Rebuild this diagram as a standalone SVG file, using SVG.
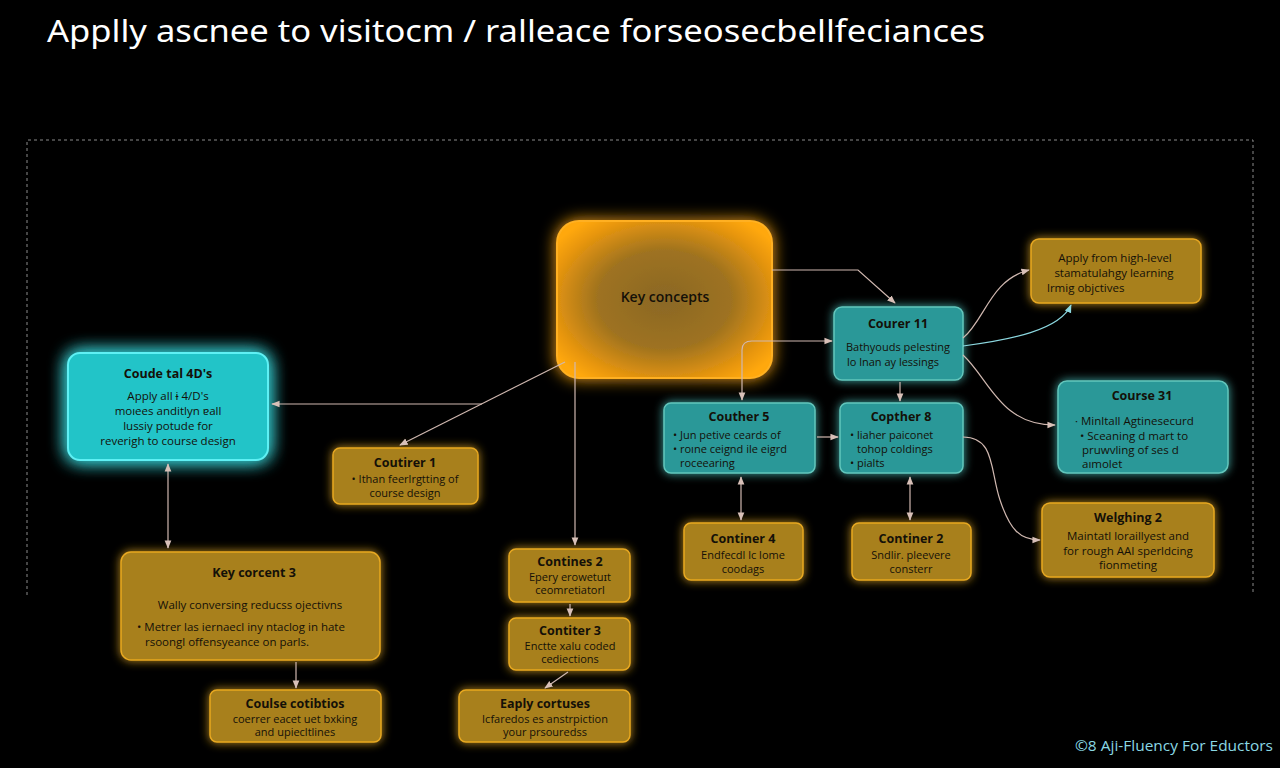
<svg xmlns="http://www.w3.org/2000/svg" width="1280" height="768" viewBox="0 0 1280 768">
<defs>
<filter id="glowO" x="-40%" y="-40%" width="180%" height="180%"><feGaussianBlur in="SourceGraphic" stdDeviation="8" result="b"/><feMerge><feMergeNode in="b"/><feMergeNode in="SourceGraphic"/></feMerge></filter>
<filter id="glowC" x="-40%" y="-40%" width="180%" height="180%"><feGaussianBlur in="SourceGraphic" stdDeviation="9" result="b"/><feMerge><feMergeNode in="b"/><feMergeNode in="b"/><feMergeNode in="SourceGraphic"/></feMerge></filter>
<filter id="glowS" x="-30%" y="-30%" width="160%" height="160%"><feGaussianBlur in="SourceGraphic" stdDeviation="5" result="b"/><feMerge><feMergeNode in="b"/><feMergeNode in="SourceGraphic"/></feMerge></filter>
<radialGradient id="kc" cx="50%" cy="50%" r="62%"><stop offset="0" stop-color="#8a6826"/><stop offset="0.5" stop-color="#9e7220"/><stop offset="0.85" stop-color="#e8960e"/><stop offset="1" stop-color="#ffa80a"/></radialGradient>
<marker id="ah" viewBox="0 0 10 10" refX="9" refY="5" markerWidth="7" markerHeight="7" orient="auto-start-reverse"><path d="M0,1 L10,5 L0,9 z" fill="#d8c0b8"/></marker>
<marker id="ahc" viewBox="0 0 10 10" refX="9" refY="5" markerWidth="7" markerHeight="7" orient="auto-start-reverse"><path d="M0,1 L10,5 L0,9 z" fill="#8cd8e0"/></marker>
</defs>
<style>
text{font-family:"Open Sans","Noto Sans","Liberation Sans",sans-serif;fill:#141008;}
.t{font-weight:700;font-size:12.5px;text-anchor:middle;}
.b{font-size:11px;text-anchor:middle;}
.bl{font-size:11px;}
.m{font-size:11.5px;}
.gold{fill:#a8801f;stroke:#e8a820;stroke-width:1.5;}
.teal{fill:#2b9898;stroke:#62c6bc;stroke-width:1.5;}
.cyan{fill:#22c4c8;stroke:#5ef0f4;stroke-width:2;}
.c{fill:none;stroke:#d0b8b0;stroke-width:1.2;}
</style>
<rect width="1280" height="768" fill="#000"/>
<text x="47" y="42" style="font-size:31px;fill:#fff;font-family:'Noto Sans','Open Sans',sans-serif" textLength="938" lengthAdjust="spacingAndGlyphs">Applly ascnee to visitocm / ralleace forseosecbellfeciances</text>
<path d="M27,595 V140 H1253 V595" fill="none" stroke="#8a8a8a" stroke-width="1" stroke-dasharray="3,3"/>

<g id="key-concepts">
<rect x="557" y="221" width="215" height="157" rx="22" fill="url(#kc)" stroke="#ffb020" stroke-width="2" filter="url(#glowO)"/>
<text x="665" y="302" style="font-size:14px;font-weight:600;text-anchor:middle">Key concepts</text>
</g>

<g id="coude">
<rect class="cyan" x="68" y="353" width="200" height="107" rx="12" filter="url(#glowC)"/>
<text class="t" x="168" y="378">Coude tal 4D's</text>
<text class="b m" x="168" y="400">Apply all ɨ 4/D's</text>
<text class="b m" x="168" y="415">moıees anditlyn ɐall</text>
<text class="b m" x="168" y="430">lussiy potude for</text>
<text class="b m" x="168" y="445">reverigh to course design</text>
</g>

<g id="coutirer1">
<rect class="gold" x="333" y="448" width="145" height="56" rx="7" filter="url(#glowS)"/>
<text class="t" x="405" y="467">Coutirer 1</text>
<text class="b" x="405" y="483">• Ithan feerlrgtting of</text>
<text class="b" x="405" y="497">course design</text>
</g>

<g id="keycorcent3">
<rect class="gold" x="121" y="552" width="259" height="108" rx="10" filter="url(#glowS)"/>
<text class="t" x="254" y="577">Key corcent 3</text>
<text class="b m" x="250" y="609">Wally conversing reducss ojectivns</text>
<text class="bl m" x="137" y="631">• Metrer las iernaecl iny ntaclog in hate</text>
<text class="bl m" x="145" y="646">rsoongl offensyeance on parls.</text>
</g>

<g id="course-cotibtios">
<rect class="gold" x="210" y="690" width="171" height="52" rx="7" filter="url(#glowS)"/>
<text class="t" x="295" y="708">Coulse cotibtios</text>
<text class="b" x="295" y="723">coerrer eacet uet bxking</text>
<text class="b" x="295" y="736">and upiecltlines</text>
</g>

<g id="contines2">
<rect class="gold" x="509" y="549" width="121" height="53" rx="7" filter="url(#glowS)"/>
<text class="t" x="570" y="566">Contines 2</text>
<text class="b" x="570" y="581">Epery erowetuɪt</text>
<text class="b" x="570" y="594">ceomretiatorl</text>
</g>

<g id="contiter3">
<rect class="gold" x="509" y="618" width="121" height="52" rx="7" filter="url(#glowS)"/>
<text class="t" x="570" y="635">Contiter 3</text>
<text class="b" x="570" y="650">Enctte xalu coded</text>
<text class="b" x="570" y="663">cediections</text>
</g>

<g id="eaply">
<rect class="gold" x="459" y="690" width="171" height="52" rx="7" filter="url(#glowS)"/>
<text class="t" x="545" y="708">Eaply cortuses</text>
<text class="b" x="545" y="723">Icfaredos es anstrpiction</text>
<text class="b" x="545" y="736">your prsouredss</text>
</g>

<g id="courer11">
<rect class="teal" x="834" y="307" width="129" height="73" rx="8" filter="url(#glowS)"/>
<text class="t" x="898" y="328">Courer 11</text>
<text class="b" x="898" y="351">Bathyouds pelesting</text>
<text class="b" x="893" y="366">lo lnan ay lessings</text>
</g>

<g id="couther5">
<rect class="teal" x="664" y="403" width="151" height="70" rx="7" filter="url(#glowS)"/>
<text class="t" x="739" y="421">Couther 5</text>
<text class="bl" x="673" y="439">• Jun petive ceards of</text>
<text class="bl" x="673" y="453">• roıne ceignd ile eigrd</text>
<text class="bl" x="680" y="467">roceearing</text>
</g>

<g id="copther8">
<rect class="teal" x="840" y="403" width="123" height="70" rx="7" filter="url(#glowS)"/>
<text class="t" x="901" y="421">Copther 8</text>
<text class="bl" x="850" y="439">• liaher paiconet</text>
<text class="bl" x="857" y="453">tohop coldings</text>
<text class="bl" x="850" y="467">• pialts</text>
</g>

<g id="continer4">
<rect class="gold" x="684" y="523" width="119" height="57" rx="7" filter="url(#glowS)"/>
<text class="t" x="743" y="543">Continer 4</text>
<text class="b" x="743" y="559">Endfecdl lc lome</text>
<text class="b" x="743" y="573">coodags</text>
</g>

<g id="continer2">
<rect class="gold" x="852" y="523" width="119" height="57" rx="7" filter="url(#glowS)"/>
<text class="t" x="911" y="543">Continer 2</text>
<text class="b" x="911" y="559">Sndlir. pleevere</text>
<text class="b" x="911" y="573">consterr</text>
</g>

<g id="apply-high">
<rect class="gold" x="1031" y="239" width="170" height="64" rx="8" filter="url(#glowS)"/>
<text class="b m" x="1115" y="262">Apply from high-level</text>
<text class="b m" x="1114" y="277">stamatulahgy learning</text>
<text class="bl m" x="1047" y="292">lrmig objctives</text>
</g>

<g id="course31">
<rect class="teal" x="1058" y="381" width="170" height="92" rx="9" filter="url(#glowS)"/>
<text class="t" x="1142" y="400">Course 31</text>
<text class="bl m" x="1075" y="425">· Minltall Agtinesecurd</text>
<text class="bl m" x="1080" y="440">• Sceaning d mart to</text>
<text class="bl m" x="1082" y="454">pruwvling of ses d</text>
<text class="bl m" x="1082" y="468">aımolet</text>
</g>

<g id="welghing2">
<rect class="gold" x="1042" y="503" width="172" height="74" rx="8" filter="url(#glowS)"/>
<text class="t" x="1128" y="522">Welghing 2</text>
<text class="b m" x="1128" y="540">Maintatl loraillyest and</text>
<text class="b m" x="1128" y="555">for rough AAI sperldcing</text>
<text class="b m" x="1128" y="569">fionmeting</text>
</g>

<g id="connectors">
<path class="c" d="M772,270 H858 L895,303" marker-end="url(#ah)"/>
<path class="c" d="M565,362 L400,445" marker-end="url(#ah)"/>
<path class="c" d="M482,404 H272" marker-end="url(#ah)"/>
<path class="c" d="M575,362 V545" marker-end="url(#ah)"/>
<path class="c" d="M570,604 V616" marker-end="url(#ah)"/>
<path class="c" d="M568,672 L545,688" marker-end="url(#ah)"/>
<path class="c" d="M168,464 V548" marker-start="url(#ah)" marker-end="url(#ah)"/>
<path class="c" d="M296,662 V688" marker-end="url(#ah)"/>
<path class="c" d="M742,400 V350 Q742,341 752,341 H832" marker-start="url(#ah)" marker-end="url(#ah)"/>
<path class="c" d="M900,382 V401" marker-end="url(#ah)"/>
<path class="c" d="M817,437 H838" marker-end="url(#ah)"/>
<path class="c" d="M741,477 V520" marker-start="url(#ah)" marker-end="url(#ah)"/>
<path class="c" d="M910,477 V520" marker-start="url(#ah)" marker-end="url(#ah)"/>
<path class="c" d="M963,338 C985,320 990,280 1029,270" marker-end="url(#ah)"/>
<path d="M963,346 C1010,340 1060,330 1071,305" fill="none" stroke="#8cd8e0" stroke-width="1.2" marker-end="url(#ahc)"/>
<path class="c" d="M963,355 C990,380 1000,425 1055,425" marker-end="url(#ah)"/>
<path class="c" d="M963,437 C995,437 990,470 1000,500 C1010,530 1020,540 1040,540" marker-end="url(#ah)"/>
</g>

<text x="1075" y="751" style="font-size:14px;fill:#8ad8e4" textLength="198" lengthAdjust="spacingAndGlyphs">©8 Aji-Fluency For Eductors</text>
</svg>
